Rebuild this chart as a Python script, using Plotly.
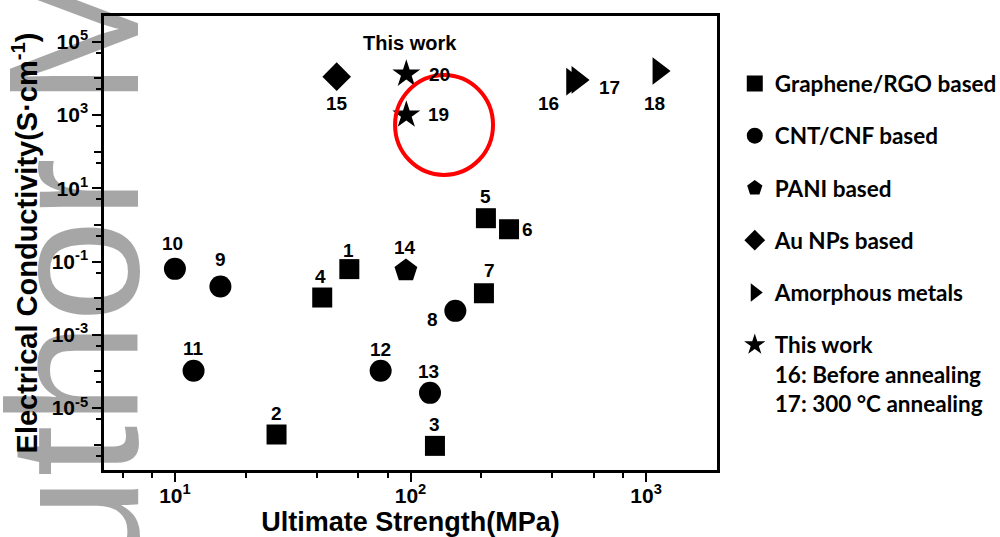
import numpy as np
import plotly.graph_objects as go

# ---------------- data ----------------
graphene_ids = [1, 2, 3, 4, 5, 6, 7]
graphene_x = [55.0, 27.0, 127.0, 42.2, 209.0, 262.0, 205.0]
graphene_y = [0.062, 1.9e-6, 9.3e-7, 0.0104, 1.52, 0.76, 0.0136]

cnt_ids = [8, 9, 10, 11, 12, 13]
cnt_x = [155.0, 15.6, 10.0, 12.0, 74.7, 121.0]
cnt_y = [0.0045, 0.0207, 0.063, 1.05e-4, 1.05e-4, 2.6e-5]

pani_ids = [14]
pani_x = [95.6]
pani_y = [0.0565]

au_ids = [15]
au_x = [48.6]
au_y = [1.11e4]

amorph_ids = [16, 17, 18]
amorph_x = [486.0, 512.0, 1130.0]
amorph_y = [8.1e3, 9.0e3, 1.58e4]

this_ids = [19, 20]
this_x = [96.0, 96.0]
this_y = [1000.0, 1.31e4]

series_names = ["Graphene/RGO based", "CNT/CNF based", "PANI based",
                "Au NPs based", "Amorphous metals",
                "This work<br>16: Before annealing<br>17: 300 °C annealing"]

x_tick_vals = [10, 100, 1000]
x_tick_text = ["10<sup>1</sup>", "10<sup>2</sup>", "10<sup>3</sup>"]
x_minor_vals = [6, 8, 20, 40, 60, 80, 200, 400, 600, 800]
y_label_exponents = [-5, -3, -1, 1, 3, 5]
y_plain_exponents = [-6, -4, -2, 0, 2, 4]
y_minor_vals = [5 * 10.0 ** e for e in range(-7, 5)]

highlight_x = [86.0, 224.0]
highlight_y = [23.1, 1.23e4]

# label offsets (px) for the numbered points
label_offsets = {
    1: (-1, 19), 2: (0, 21), 3: (0, 21), 4: (-2, 21), 5: (0, 22), 6: (18, 0),
    7: (6, 23), 8: (-23, -9), 9: (0, 27), 10: (-2, 25), 11: (0, 22),
    12: (0, 21), 13: (-2, 21), 14: (-1, 23), 15: (0, -27), 16: (-24, -22),
    17: (32, -8), 18: (-4, -32), 19: (32, 0), 20: (33, 0),
}

# ---------------- figure ----------------
fig = go.Figure()

groups = [
    (graphene_ids, graphene_x, graphene_y, "square", 20),
    (cnt_ids, cnt_x, cnt_y, "circle", 22),
    (pani_ids, pani_x, pani_y, "pentagon", 24),
    (au_ids, au_x, au_y, "diamond", 22),
    (amorph_ids, amorph_x, amorph_y, "triangle-right", 24),
    (this_ids, this_x, this_y, "star", 21),
]

for (ids, xs, ys, sym, sz), name in zip(groups, series_names):
    fig.add_trace(go.Scatter(
        x=xs, y=ys, mode="markers", name=name, legendgroup=name,
        marker=dict(symbol=sym, size=sz, color="black", line=dict(width=0)),
        cliponaxis=False, showlegend=True,
    ))

label_font = dict(family="Liberation Sans, Arial", size=19, color="black", weight="bold")
for ids, xs, ys, _, _ in groups:
    for i, xv, yv in zip(ids, xs, ys):
        dx, dy = label_offsets[i]
        fig.add_annotation(x=np.log10(xv), y=np.log10(yv), xref="x", yref="y",
                           text=str(i), showarrow=False, xshift=dx, yshift=dy,
                           font=label_font)

fig.add_annotation(x=np.log10(this_x[1]), y=np.log10(this_y[1]), xref="x", yref="y",
                   text="This work", showarrow=False, xshift=4, yshift=31,
                   font=dict(family="Liberation Sans, Arial", size=20,
                             color="black", weight="bold"))

# red highlight circle
fig.add_shape(type="circle", xref="x", yref="y",
              x0=highlight_x[0], x1=highlight_x[1],
              y0=highlight_y[0], y1=highlight_y[1],
              line=dict(color="#ff0000", width=4))

# watermark (semi-transparent black -> grey on white, black stays black)
fig.add_annotation(text="Author Manuscript", xref="paper", yref="paper",
                   x=(179 - 104) / 613, y=(470 + 47) / 454,
                   xanchor="right", yanchor="middle", textangle=-90,
                   showarrow=False,
                   font=dict(family="Liberation Sans, Arial", size=185,
                             color="rgba(0,0,0,0.35)"))

x_title_font = dict(family="Liberation Sans, Arial", size=27, color="black", weight="bold")
y_title_font = dict(family="Liberation Sans, Arial", size=29, color="black", weight="bold")
tick_font = dict(family="Liberation Sans, Arial", size=21, color="black", weight="bold")

fig.update_xaxes(
    type="log", range=[np.log10(5), np.log10(2000)],
    tickmode="array", tickvals=x_tick_vals, ticktext=x_tick_text,
    ticks="outside", ticklen=9, tickwidth=2, tickcolor="black",
    ticklabelstandoff=-4,
    showline=True, linewidth=2.5, linecolor="black", mirror=True,
    showgrid=False, zeroline=False, tickfont=tick_font,
    minor=dict(tickmode="array", tickvals=x_minor_vals, ticks="outside",
               ticklen=5, tickwidth=2, tickcolor="black", showgrid=False),
    title=dict(text="Ultimate Strength(MPa)", font=x_title_font, standoff=2),
)
fig.update_layout(
    yaxis=dict(
        type="log", range=[-6.69, 5.70],
        tickmode="array", tickvals=[10.0 ** e for e in y_label_exponents],
        ticktext=["10<sup>%d</sup>" % e for e in y_label_exponents],
        ticks="outside", ticklen=9, tickwidth=2, tickcolor="black",
        showline=True, linewidth=2.5, linecolor="black", mirror=True,
        showgrid=False, zeroline=False, tickfont=tick_font,
        minor=dict(tickmode="array", tickvals=y_minor_vals, ticks="outside",
                   ticklen=5, tickwidth=2, tickcolor="black", showgrid=False),
        title=dict(text="Electrical Conductivity(S·cm<sup>-1</sup>)", font=y_title_font, standoff=6),
    ),
    yaxis2=dict(
        type="log", range=[-6.69, 5.70], overlaying="y", side="left",
        tickmode="array", tickvals=[10.0 ** e for e in y_plain_exponents],
        showticklabels=False, ticks="outside", ticklen=9, tickwidth=2,
        tickcolor="black", showline=False, showgrid=False, zeroline=False,
    ),
)

# invisible trace to activate the overlaying tick axis
fig.add_trace(go.Scatter(x=[graphene_x[0]], y=[graphene_y[0]], yaxis="y2",
                         mode="markers", marker=dict(opacity=0),
                         showlegend=False, hoverinfo="skip"))

fig.update_layout(
    width=1000, height=537,
    margin=dict(l=104, r=283, t=16, b=67, autoexpand=False),
    plot_bgcolor="white", paper_bgcolor="white",
    legend=dict(x=1.029, y=0.898, xanchor="left", yanchor="top",
                font=dict(family="Lato, Open Sans", size=22.5, color="black", weight="bold"),
                tracegroupgap=20, valign="top", itemsizing="trace",
                bgcolor="rgba(0,0,0,0)"),
)

fig.write_html("out.html", config={"displayModeBar": False},
               post_script="document.body.style.margin='0px';")
